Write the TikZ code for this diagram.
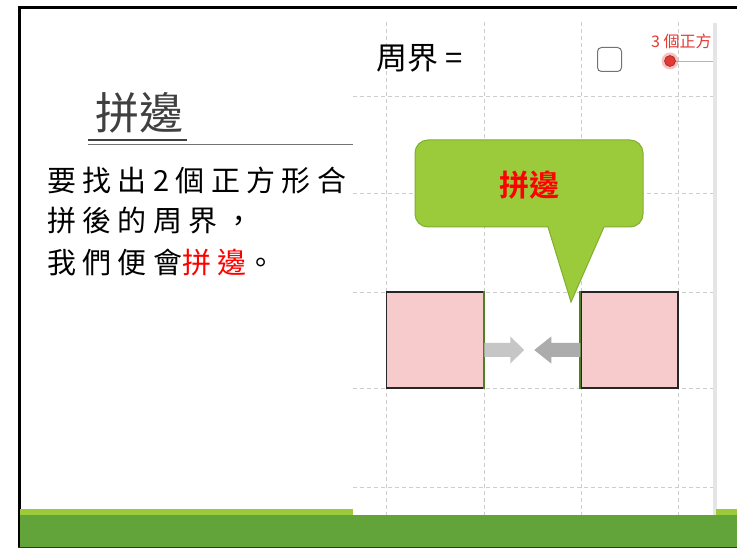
\documentclass[tikz,border=0pt]{standalone}
\usepackage{fontspec}
\newfontfamily\cjk{Noto Sans CJK TC}
\newfontfamily\cjksp[LetterSpace=22]{Noto Sans CJK TC}
\newfontfamily\cjkb{Noto Sans CJK TC Bold}
\definecolor{dkgreen}{HTML}{63A43A}
\definecolor{ltgreen}{HTML}{9BCB3B}
\definecolor{coborder}{HTML}{7FAF2E}
\definecolor{pinkfill}{HTML}{F7CBCB}
\definecolor{gridgray}{HTML}{CDCDCD}
\definecolor{edgegreen}{HTML}{4F7F25}
\definecolor{dotred}{HTML}{E23A35}
\tikzset{
  gridline/.style={gridgray, dashed, dash pattern=on 4pt off 3pt, line width=0.9pt},
  sqbox/.style={draw=black!85, line width=1.5pt, fill=pinkfill, minimum width=97pt, minimum height=96pt, inner sep=0pt},
  bodytext/.style={anchor=west, inner sep=0pt, font=\cjksp\fontsize{29}{29}\selectfont},
}
\begin{document}
\begin{tikzpicture}[x=1pt,y=-1pt]
\useasboundingbox (0,0) rectangle (737,548);
\fill[white] (0,0) rectangle (737,548);
% frame
\draw[black, line width=3pt] (19.5,548) -- (19.5,8) -- (737,8);
% screenshot panel
\fill[white] (353,22) rectangle (716,515);
\foreach \x in {386,484,581,678} \draw[gridline] (\x,22) -- (\x,515);
\foreach \y in {96,193,292,388,487} \draw[gridline] (353,\y) -- (713,\y);
\fill[gray!20] (713,23) rectangle (717,515);
% top controls
\node[inner sep=0pt, font=\cjk\fontsize{31}{31}\selectfont] (per) at (420,58) {周界 =};
\node[draw=black!55, line width=1pt, rounded corners=4pt, minimum size=24pt, inner sep=0pt] (cb) at (609.5,59.5) {};
\draw[dotred!50, line width=0.8pt] (676,61) -- (713,61);
\fill[dotred, opacity=0.3] (670,61) circle (8.5);
\node[circle, fill=dotred, draw=dotred!70!black, line width=0.6pt, minimum size=11pt, inner sep=0pt] (dot) at (670,61) {};
\node[anchor=west, inner sep=0pt, text=dotred, font=\cjk\fontsize{16}{16}\selectfont] (lbl) at (651,41) {3 個正方};
% left text
\node[inner sep=0pt, text=black!75, font=\cjk\fontsize{44}{44}\selectfont] (title) at (139,113) {拼邊};
\draw[black!75, line width=2.5pt] (88,140) -- (187,140);
\draw[black!55, line width=1pt] (88,144.5) -- (353,144.5);
\node[bodytext] (l1) at (47,180) {要找出2個正方形合};
\node[bodytext] (l2) at (47,221) {拼後的周界，};
\node[bodytext] (l3) at (47,262) {我們便會\textcolor{red}{拼邊}。};
% squares
\node[sqbox] (ls) at (435,340) {};
\node[sqbox] (rs) at (629.5,340) {};
\draw[edgegreen, line width=2pt] (ls.north east) -- (ls.south east);
\draw[edgegreen, line width=2pt] (rs.north west) -- (rs.south west);
% arrows
\fill[gray!45] (ls.east) ++(0,3) -- ++(26,0) -- ++(0,-6.5) -- ++(14,13.5) -- ++(-14,13.5) -- ++(0,-6.5) -- ++(-26,0) -- cycle;
\fill[gray!65] (rs.west) ++(0,3) -- ++(-29,0) -- ++(0,-6.5) -- ++(-17,13.5) -- ++(17,13.5) -- ++(0,-6.5) -- ++(29,0) -- cycle;
% callout
\path[draw=coborder, line width=1pt, fill=ltgreen]
  (548,227) -- (571,302) -- (604,227) [rounded corners=13pt] -- (643,227) -- (643,140) -- (415,140) -- (415,227) [sharp corners] -- (548,227) -- cycle;
\node[inner sep=0pt, text=red, font=\cjkb\fontsize{30}{30}\selectfont] (co) at (529,185) {拼邊};
% bottom bands
\fill[ltgreen] (20,509) rectangle (353,515);
\fill[ltgreen] (716,509) rectangle (737,515);
\fill[dkgreen] (20,515) rectangle (737,547);
\draw[black!80, line width=1pt] (18,547.5) -- (737,547.5);
\end{tikzpicture}
\end{document}
